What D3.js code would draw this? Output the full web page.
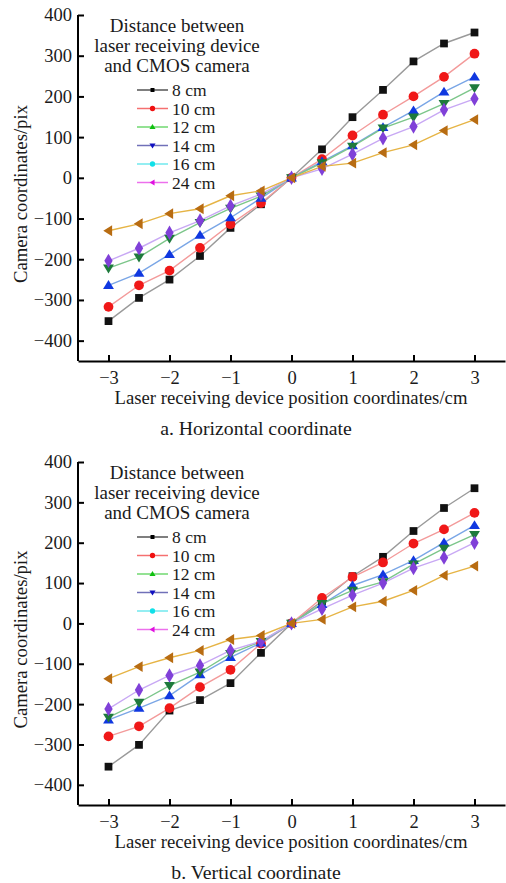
<!DOCTYPE html>
<html><head><meta charset="utf-8">
<script src="https://cdn.jsdelivr.net/npm/d3@7"></script>
<style>body{margin:0;background:#fff}svg{display:block}text{font-family:"Liberation Serif","Times New Roman",serif;fill:#1a1a1a}</style>
</head><body><svg id="c" width="506" height="883"></svg>
<script>
const xValues = [-3,-2.5,-2,-1.5,-1,-0.5,0,0.5,1,1.5,2,2.5,3];
const xTicks = [-3,-2,-1,0,1,2,3];
const yTicks = [-400,-300,-200,-100,0,100,200,300,400];
const seriesNames = ["8 cm","10 cm","12 cm","14 cm","16 cm","24 cm"];
const legendTitle = ["Distance between","laser receiving device","and CMOS camera"];
// panel a: horizontal coordinate
const hor8  = [-352,-295,-250,-192,-123,-65,0,70,149,216,286,330,357];
const hor10 = [-317,-264,-228,-172,-114,-62,0,46,104,155,200,248,305];
const hor12 = [-264,-234,-188,-141,-98,-50,0,40,79,124,165,211,248];
const hor14 = [-222,-195,-149,-110,-75,-45,0,37,77,122,149,182,221];
const hor16 = [-204,-173,-135,-105,-69,-40,0,22,58,97,126,167,194];
const hor24 = [-130,-113,-88,-76,-44,-32,0,28,36,62,81,116,143];
// panel b: vertical coordinate
const ver8  = [-355,-301,-216,-190,-148,-73,0,55,117,165,229,286,335];
const ver10 = [-280,-255,-210,-158,-115,-50,0,63,115,151,198,233,274];
const ver12 = [-239,-210,-179,-127,-84,-48,0,47,94,121,156,200,243];
const ver14 = [-233,-196,-154,-121,-75,-45,0,49,82,103,147,186,220];
const ver16 = [-212,-165,-129,-104,-67,-44,0,36,70,100,137,163,200];
const ver24 = [-137,-107,-85,-67,-40,-30,0,10,41,55,82,119,142];
const panelTitles = ["a. Horizontal coordinate","b. Vertical coordinate"];
const xLabel = "Laser receiving device position coordinates/cm";
const yLabel = "Camera coordinates/pix";

const plotStyles = [
  {sym:d3.symbolSquare, size:60, fill:"#111111", line:"#9a9a9a"},
  {sym:d3.symbolCircle, size:75, fill:"#f01818", line:"#f39a9a"},
  {sym:"up", size:70, fill:"#1038e0", line:"#7aa6e6"},
  {sym:"down", size:70, fill:"#1e7a3c", line:"#7cc68a"},
  {sym:d3.symbolDiamond, size:60, fill:"#8040d8", line:"#c8a8f4"},
  {sym:"left", size:70, fill:"#b86c12", line:"#e6b445"}
];
const legendStyles = [
  {sym:d3.symbolSquare, size:16, fill:"#000", line:"#555"},
  {sym:d3.symbolCircle, size:22, fill:"#f01010", line:"#f57070"},
  {sym:"up", size:22, fill:"#10c010", line:"#70d870"},
  {sym:"down", size:22, fill:"#1010c0", line:"#7070b8"},
  {sym:d3.symbolCircle, size:22, fill:"#10e0e8", line:"#70e8ee"},
  {sym:"left", size:22, fill:"#e010e0", line:"#ec70ec"}
];
function markPath(sym, size){
  if (typeof sym !== "string") return d3.symbol(sym, size)();
  const r = Math.sqrt(size)*0.62;
  let pts;
  if (sym==="up") pts=[[0,-r],[r*1.05,r*0.7],[-r*1.05,r*0.7]];
  else if (sym==="down") pts=[[0,r],[r*1.05,-r*0.7],[-r*1.05,-r*0.7]];
  else pts=[[-r,0],[r*0.7,-r*1.05],[r*0.7,r*1.05]];
  return "M"+pts.map(p=>p.join(",")).join("L")+"Z";
}

const svg = d3.select("#c");
const x = d3.scaleLinear().domain([-3.5,3.5]).range([78,505]);

function panel(data, top, bottom, title){
  const y = d3.scaleLinear().domain([-450,400]).range([bottom, top]);
  const g = svg.append("g");
  const ax = g.append("g").attr("transform",`translate(0,${bottom})`)
    .call(d3.axisBottom(x).tickValues(xTicks).tickSizeInner(-6).tickSizeOuter(0).tickPadding(10).tickFormat(d=>d<0?"\u2212"+(-d):d));
  ax.select(".domain").attr("stroke","#000").attr("stroke-width",2);
  ax.selectAll(".tick line").attr("stroke","#000").attr("stroke-width",2);
  ax.selectAll("text").attr("font-size",18.5).attr("font-family","Liberation Serif").attr("fill","#1a1a1a");
  const ay = g.append("g").attr("transform","translate(78,0)")
    .call(d3.axisLeft(y).tickValues(yTicks).tickSizeInner(-6).tickSizeOuter(0).tickPadding(6).tickFormat(d=>d<0?"\u2212"+(-d):d));
  ay.select(".domain").attr("stroke","#000").attr("stroke-width",2).attr("d",`M0,${bottom}V${y(400)}`);
  ay.selectAll(".tick line").attr("stroke","#000").attr("stroke-width",2);
  ay.selectAll("text").attr("font-size",18.5).attr("font-family","Liberation Serif").attr("fill","#1a1a1a");
  const line = d3.line().x((d,i)=>x(xValues[i])).y(d=>y(d));
  data.forEach((s,k)=>{
    g.append("path").attr("d",line(s)).attr("fill","none").attr("stroke",plotStyles[k].line).attr("stroke-width",1.4);
  });
  data.forEach((s,k)=>{
    g.selectAll(null).data(s).enter().append("path")
      .attr("d",markPath(plotStyles[k].sym, plotStyles[k].size))
      .attr("transform",(d,i)=>`translate(${x(xValues[i])},${y(d)})`)
      .attr("fill",plotStyles[k].fill);
  });
  const lg = g.append("g");
  legendTitle.forEach((t,i)=>{
    lg.append("text").attr("x",177).attr("y",top+17+i*20).attr("text-anchor","middle").attr("font-size",19).text(t);
  });
  seriesNames.forEach((n,i)=>{
    const yy = top+75+i*18.5;
    lg.append("line").attr("x1",137).attr("x2",168).attr("y1",yy).attr("y2",yy).attr("stroke",legendStyles[i].line).attr("stroke-width",1.5);
    lg.append("path").attr("d",markPath(legendStyles[i].sym,legendStyles[i].size)).attr("transform",`translate(152.5,${yy})`).attr("fill",legendStyles[i].fill);
    lg.append("text").attr("x",172).attr("y",yy+6).attr("font-size",17.5).text(n);
  });
  g.append("text").attr("x",291).attr("y",bottom+43).attr("text-anchor","middle").attr("font-size",18.7).text(xLabel);
  g.append("text").attr("transform",`translate(27,${(top+bottom)/2+6}) rotate(-90)`).attr("text-anchor","middle").attr("font-size",18.7).text(yLabel);
  g.append("text").attr("x",256).attr("y",bottom+74).attr("text-anchor","middle").attr("font-size",19.8).text(title);
}
panel([hor8,hor10,hor12,hor14,hor16,hor24], 15, 361, panelTitles[0]);
panel([ver8,ver10,ver12,ver14,ver16,ver24], 462, 805, panelTitles[1]);
</script></body></html>
